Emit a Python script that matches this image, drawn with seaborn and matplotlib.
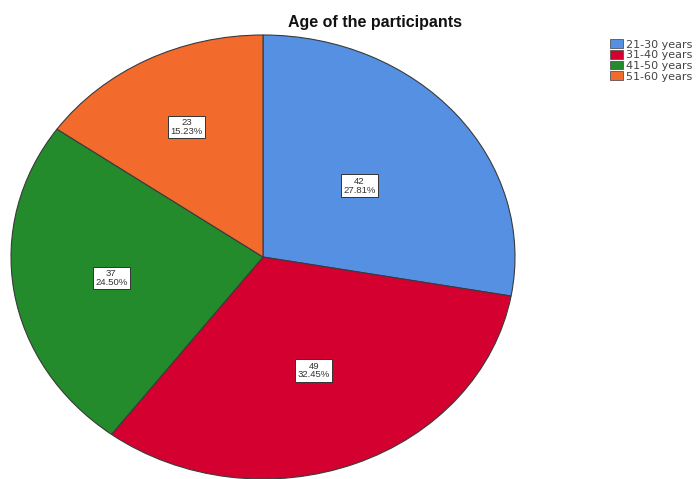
import matplotlib
matplotlib.use("Agg")
import matplotlib.pyplot as plt
import seaborn as sns
import numpy as np
from matplotlib.patches import Patch

categories = ["21-30 years", "31-40 years", "41-50 years", "51-60 years"]
counts = [42, 49, 37, 23]
percents = ["27.81%", "32.45%", "24.50%", "15.23%"]
colors = ["#5590E2", "#D4002F", "#238B2B", "#F26A2C"]
label_dist = [0.5, 0.55, 0.61, 0.66]

sns.set_theme(style="white")
plt.rcParams['font.family'] = ['Liberation Sans', 'DejaVu Sans']

fig = plt.figure(figsize=(6.98, 4.79), dpi=100)
ax = fig.add_axes([11/698, 0.0, 504/698, 444/479])
pal = sns.color_palette(colors)

labels = [f"{c}\n{p}" for c, p in zip(counts, percents)]
wedges, texts = ax.pie(counts, colors=pal, startangle=90, counterclock=False,
                       labels=labels, labeldistance=0.5,
                       wedgeprops=dict(edgecolor="#3a3a3a", linewidth=0.8),
                       textprops=dict(fontsize=6.8, color="#333333", ha="center", va="center",
                                      linespacing=0.95))
for w, t, d in zip(wedges, texts, label_dist):
    ang = np.deg2rad((w.theta1 + w.theta2) / 2)
    t.set_position((d * np.cos(ang), d * np.sin(ang)))
    t.set_ha("center")
    t.set_bbox(dict(facecolor="white", edgecolor="#333333", linewidth=0.7, pad=1.8))
ax.set_aspect("auto")
ax.set_xlim(-1.0, 1.0)
ax.set_ylim(-1.0, 1.0)
ax.axis("off")

fig.text(375/698, 1-22/479, "Age of the participants", ha="center", va="center",
         fontsize=11.5, fontweight="bold", color="#111111")

handles = [Patch(facecolor=c, edgecolor="#555555", linewidth=0.6, label=l) for c, l in zip(pal, categories)]
fig.legend(handles=handles, loc="upper left", bbox_to_anchor=(606/698, 1-35/479),
           frameon=False, handlelength=1.1, handleheight=0.8,
           handletextpad=0.3, labelspacing=0.05, borderaxespad=0, labelcolor="#444444",
           prop={"family": ["DejaVu Sans"], "size": 8})

fig.savefig("out.png", dpi=100)
